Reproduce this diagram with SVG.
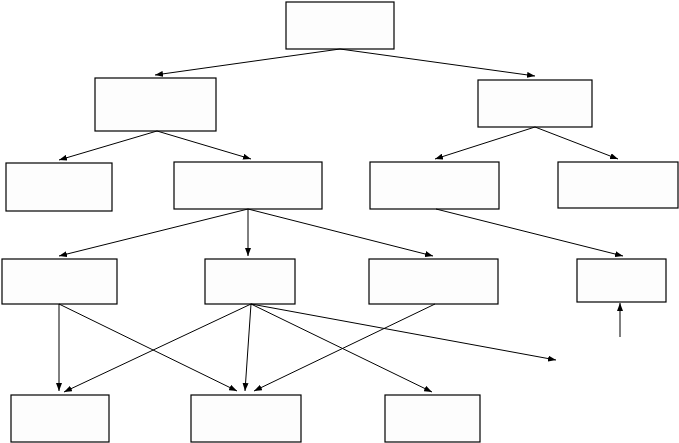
<svg xmlns="http://www.w3.org/2000/svg" width="679" height="443" viewBox="0 0 679 443">
<style>
.n rect{fill:#fdfdfd;stroke:#000;stroke-width:1.2}
.e line{stroke:#000;stroke-width:1;marker-end:url(#ah)}
</style>
<defs>
<marker id="ah" markerUnits="userSpaceOnUse" markerWidth="8" markerHeight="6" refX="8" refY="3" orient="auto">
<path d="M0,0 L8,3 L0,6 z" fill="#000"/>
</marker>
</defs>
<rect width="679" height="443" fill="#fff"/>
<g class="n">
<g id="n0"><rect x="286" y="2" width="108" height="47"/></g>
<g id="n1"><rect x="95" y="78" width="121" height="53"/></g>
<g id="n2"><rect x="478" y="80" width="114" height="47"/></g>
<g id="n3"><rect x="6" y="163" width="106" height="48"/></g>
<g id="n4"><rect x="174" y="162" width="148" height="47"/></g>
<g id="n5"><rect x="370" y="162" width="129" height="47"/></g>
<g id="n6"><rect x="558" y="162" width="120" height="46"/></g>
<g id="n7"><rect x="2" y="259" width="115" height="45"/></g>
<g id="n8"><rect x="205" y="259" width="90" height="45"/></g>
<g id="n9"><rect x="369" y="259" width="129" height="45"/></g>
<g id="n10"><rect x="577" y="259" width="89" height="43"/></g>
<g id="n11"><rect x="11" y="395" width="98" height="47"/></g>
<g id="n12"><rect x="191" y="395" width="110" height="47"/></g>
<g id="n13"><rect x="385" y="395" width="95" height="47"/></g>
</g>
<g class="e" id="edges">
<line x1="340" y1="49" x2="155" y2="75"/>
<line x1="340" y1="49" x2="535" y2="76"/>
<line x1="157" y1="131" x2="59" y2="160"/>
<line x1="157" y1="131" x2="251" y2="159"/>
<line x1="535" y1="127" x2="435" y2="159"/>
<line x1="535" y1="127" x2="618" y2="159"/>
<line x1="248" y1="209" x2="59" y2="256"/>
<line x1="248" y1="209" x2="248" y2="256"/>
<line x1="248" y1="209" x2="433" y2="256"/>
<line x1="436" y1="209" x2="623" y2="256"/>
<line x1="59" y1="304" x2="59" y2="391"/>
<line x1="59" y1="304" x2="237" y2="391"/>
<line x1="251" y1="304" x2="64" y2="392"/>
<line x1="251" y1="304" x2="245" y2="391"/>
<line x1="251" y1="304" x2="432" y2="392"/>
<line x1="251" y1="304" x2="556" y2="360"/>
<line x1="435" y1="304" x2="254" y2="391"/>
<line x1="620" y1="337" x2="620" y2="303"/>
</g>
</svg>
